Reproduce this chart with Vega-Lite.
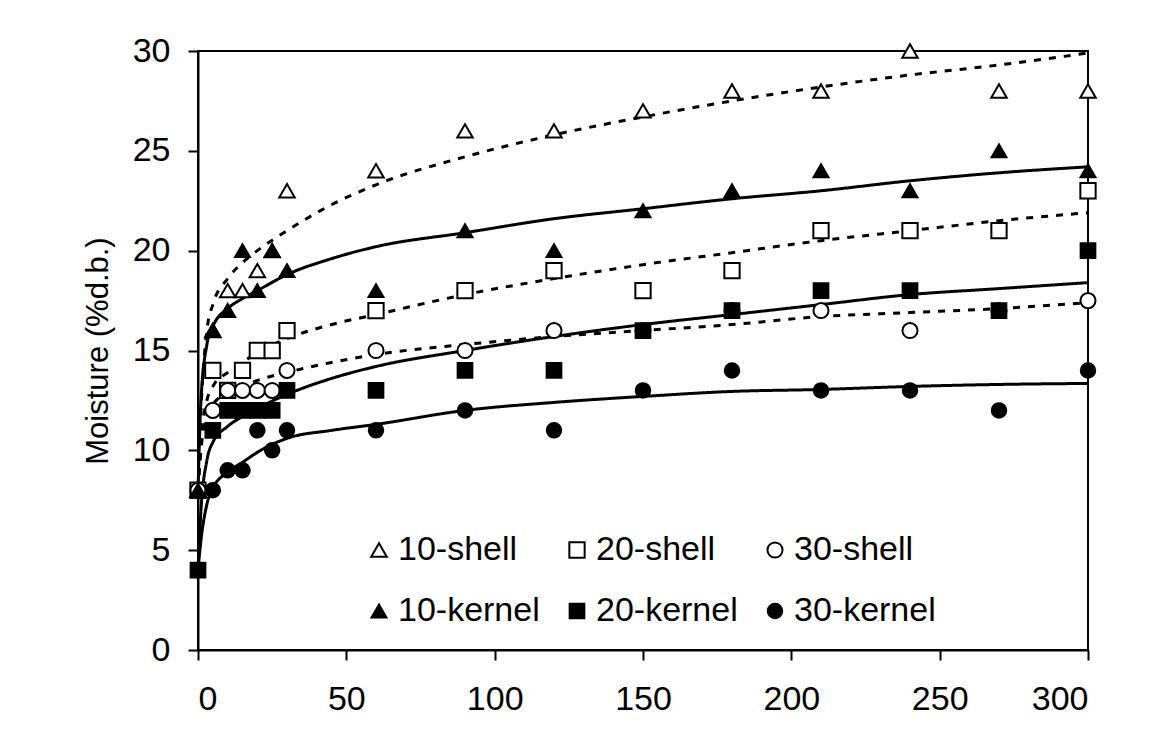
{
  "$schema": "https://vega.github.io/schema/vega-lite/v6.json",
  "width": 890,
  "height": 599,
  "autosize": {"type": "none"},
  "padding": {"left": 198, "top": 51, "right": 84, "bottom": 93},
  "background": "white",
  "config": {
    "font": "Liberation Sans",
    "view": {"stroke": "black", "strokeWidth": 2},
    "axis": {
      "grid": false,
      "domainColor": "black",
      "domainWidth": 2,
      "tickColor": "black",
      "tickWidth": 2,
      "tickSize": 10,
      "labelFont": "Liberation Sans",
      "labelFontSize": 34,
      "labelColor": "black",
      "titleFont": "Liberation Sans",
      "titleFontSize": 31,
      "titleFontWeight": "normal",
      "titleColor": "black"
    },
    "legend": {
      "orient": "none",
      "legendX": 164,
      "legendY": 482,
      "direction": "horizontal",
      "columns": 3,
      "gridAlign": "all",
      "labelFont": "Liberation Sans",
      "labelFontSize": 34,
      "labelColor": "black",
      "labelOffset": 2,
      "symbolStrokeWidth": 2,
      "columnPadding": 20,
      "rowPadding": 27,
      "labelLimit": 300
    }
  },
  "datasets": {
    "points": [
      {"series": "10-shell", "t": 0, "m": 8}, {"series": "10-shell", "t": 5, "m": 16}, {"series": "10-shell", "t": 10, "m": 18}, {"series": "10-shell", "t": 15, "m": 18}, {"series": "10-shell", "t": 20, "m": 19}, {"series": "10-shell", "t": 25, "m": 20}, {"series": "10-shell", "t": 30, "m": 23}, {"series": "10-shell", "t": 60, "m": 24}, {"series": "10-shell", "t": 90, "m": 26}, {"series": "10-shell", "t": 120, "m": 26}, {"series": "10-shell", "t": 150, "m": 27}, {"series": "10-shell", "t": 180, "m": 28}, {"series": "10-shell", "t": 210, "m": 28}, {"series": "10-shell", "t": 240, "m": 30}, {"series": "10-shell", "t": 270, "m": 28}, {"series": "10-shell", "t": 300, "m": 28},
      {"series": "20-shell", "t": 0, "m": 8}, {"series": "20-shell", "t": 5, "m": 14}, {"series": "20-shell", "t": 10, "m": 13}, {"series": "20-shell", "t": 15, "m": 14}, {"series": "20-shell", "t": 20, "m": 15}, {"series": "20-shell", "t": 25, "m": 15}, {"series": "20-shell", "t": 30, "m": 16}, {"series": "20-shell", "t": 60, "m": 17}, {"series": "20-shell", "t": 90, "m": 18}, {"series": "20-shell", "t": 120, "m": 19}, {"series": "20-shell", "t": 150, "m": 18}, {"series": "20-shell", "t": 180, "m": 19}, {"series": "20-shell", "t": 210, "m": 21}, {"series": "20-shell", "t": 240, "m": 21}, {"series": "20-shell", "t": 270, "m": 21}, {"series": "20-shell", "t": 300, "m": 23},
      {"series": "30-shell", "t": 0, "m": 8}, {"series": "30-shell", "t": 5, "m": 12}, {"series": "30-shell", "t": 10, "m": 13}, {"series": "30-shell", "t": 15, "m": 13}, {"series": "30-shell", "t": 20, "m": 13}, {"series": "30-shell", "t": 25, "m": 13}, {"series": "30-shell", "t": 30, "m": 14}, {"series": "30-shell", "t": 60, "m": 15}, {"series": "30-shell", "t": 90, "m": 15}, {"series": "30-shell", "t": 120, "m": 16}, {"series": "30-shell", "t": 150, "m": 16}, {"series": "30-shell", "t": 180, "m": 17}, {"series": "30-shell", "t": 210, "m": 17}, {"series": "30-shell", "t": 240, "m": 16}, {"series": "30-shell", "t": 270, "m": 17}, {"series": "30-shell", "t": 300, "m": 17.5},
      {"series": "10-kernel", "t": 0, "m": 8}, {"series": "10-kernel", "t": 5, "m": 16}, {"series": "10-kernel", "t": 10, "m": 17}, {"series": "10-kernel", "t": 15, "m": 20}, {"series": "10-kernel", "t": 20, "m": 18}, {"series": "10-kernel", "t": 25, "m": 20}, {"series": "10-kernel", "t": 30, "m": 19}, {"series": "10-kernel", "t": 60, "m": 18}, {"series": "10-kernel", "t": 90, "m": 21}, {"series": "10-kernel", "t": 120, "m": 20}, {"series": "10-kernel", "t": 150, "m": 22}, {"series": "10-kernel", "t": 180, "m": 23}, {"series": "10-kernel", "t": 210, "m": 24}, {"series": "10-kernel", "t": 240, "m": 23}, {"series": "10-kernel", "t": 270, "m": 25}, {"series": "10-kernel", "t": 300, "m": 24},
      {"series": "20-kernel", "t": 0, "m": 4}, {"series": "20-kernel", "t": 5, "m": 11}, {"series": "20-kernel", "t": 10, "m": 12}, {"series": "20-kernel", "t": 15, "m": 12}, {"series": "20-kernel", "t": 20, "m": 12}, {"series": "20-kernel", "t": 25, "m": 12}, {"series": "20-kernel", "t": 30, "m": 13}, {"series": "20-kernel", "t": 60, "m": 13}, {"series": "20-kernel", "t": 90, "m": 14}, {"series": "20-kernel", "t": 120, "m": 14}, {"series": "20-kernel", "t": 150, "m": 16}, {"series": "20-kernel", "t": 180, "m": 17}, {"series": "20-kernel", "t": 210, "m": 18}, {"series": "20-kernel", "t": 240, "m": 18}, {"series": "20-kernel", "t": 270, "m": 17}, {"series": "20-kernel", "t": 300, "m": 20},
      {"series": "30-kernel", "t": 0, "m": 4}, {"series": "30-kernel", "t": 5, "m": 8}, {"series": "30-kernel", "t": 10, "m": 9}, {"series": "30-kernel", "t": 15, "m": 9}, {"series": "30-kernel", "t": 20, "m": 11}, {"series": "30-kernel", "t": 25, "m": 10}, {"series": "30-kernel", "t": 30, "m": 11}, {"series": "30-kernel", "t": 60, "m": 11}, {"series": "30-kernel", "t": 90, "m": 12}, {"series": "30-kernel", "t": 120, "m": 11}, {"series": "30-kernel", "t": 150, "m": 13}, {"series": "30-kernel", "t": 180, "m": 14}, {"series": "30-kernel", "t": 210, "m": 13}, {"series": "30-kernel", "t": 240, "m": 13}, {"series": "30-kernel", "t": 270, "m": 12}, {"series": "30-kernel", "t": 300, "m": 14}
    ],
    "fits": [
      {"series": "10-shell", "type": "shell", "t": 0, "m": 8}, {"series": "10-shell", "type": "shell", "t": 1, "m": 12}, {"series": "10-shell", "type": "shell", "t": 3, "m": 16}, {"series": "10-shell", "type": "shell", "t": 5, "m": 17.3}, {"series": "10-shell", "type": "shell", "t": 10, "m": 18.6}, {"series": "10-shell", "type": "shell", "t": 15, "m": 19.4}, {"series": "10-shell", "type": "shell", "t": 20, "m": 20.0}, {"series": "10-shell", "type": "shell", "t": 30, "m": 21.0}, {"series": "10-shell", "type": "shell", "t": 45, "m": 22.3}, {"series": "10-shell", "type": "shell", "t": 60, "m": 23.3}, {"series": "10-shell", "type": "shell", "t": 90, "m": 24.7}, {"series": "10-shell", "type": "shell", "t": 120, "m": 25.8}, {"series": "10-shell", "type": "shell", "t": 150, "m": 26.7}, {"series": "10-shell", "type": "shell", "t": 180, "m": 27.5}, {"series": "10-shell", "type": "shell", "t": 210, "m": 28.2}, {"series": "10-shell", "type": "shell", "t": 240, "m": 28.8}, {"series": "10-shell", "type": "shell", "t": 270, "m": 29.3}, {"series": "10-shell", "type": "shell", "t": 300, "m": 29.9},
      {"series": "10-kernel", "type": "kernel", "t": 0, "m": 8}, {"series": "10-kernel", "type": "kernel", "t": 1, "m": 12.5}, {"series": "10-kernel", "type": "kernel", "t": 3, "m": 15.3}, {"series": "10-kernel", "type": "kernel", "t": 5, "m": 16.2}, {"series": "10-kernel", "type": "kernel", "t": 10, "m": 17.1}, {"series": "10-kernel", "type": "kernel", "t": 15, "m": 17.6}, {"series": "10-kernel", "type": "kernel", "t": 20, "m": 18.0}, {"series": "10-kernel", "type": "kernel", "t": 30, "m": 18.8}, {"series": "10-kernel", "type": "kernel", "t": 45, "m": 19.6}, {"series": "10-kernel", "type": "kernel", "t": 60, "m": 20.2}, {"series": "10-kernel", "type": "kernel", "t": 90, "m": 20.9}, {"series": "10-kernel", "type": "kernel", "t": 120, "m": 21.6}, {"series": "10-kernel", "type": "kernel", "t": 150, "m": 22.1}, {"series": "10-kernel", "type": "kernel", "t": 180, "m": 22.6}, {"series": "10-kernel", "type": "kernel", "t": 210, "m": 23.0}, {"series": "10-kernel", "type": "kernel", "t": 240, "m": 23.5}, {"series": "10-kernel", "type": "kernel", "t": 270, "m": 23.9}, {"series": "10-kernel", "type": "kernel", "t": 300, "m": 24.2},
      {"series": "20-shell", "type": "shell", "t": 0, "m": 8}, {"series": "20-shell", "type": "shell", "t": 1, "m": 10.5}, {"series": "20-shell", "type": "shell", "t": 3, "m": 12.5}, {"series": "20-shell", "type": "shell", "t": 5, "m": 13.2}, {"series": "20-shell", "type": "shell", "t": 10, "m": 13.9}, {"series": "20-shell", "type": "shell", "t": 15, "m": 14.4}, {"series": "20-shell", "type": "shell", "t": 20, "m": 14.9}, {"series": "20-shell", "type": "shell", "t": 30, "m": 15.6}, {"series": "20-shell", "type": "shell", "t": 45, "m": 16.3}, {"series": "20-shell", "type": "shell", "t": 60, "m": 16.8}, {"series": "20-shell", "type": "shell", "t": 90, "m": 17.8}, {"series": "20-shell", "type": "shell", "t": 120, "m": 18.6}, {"series": "20-shell", "type": "shell", "t": 150, "m": 19.3}, {"series": "20-shell", "type": "shell", "t": 180, "m": 19.9}, {"series": "20-shell", "type": "shell", "t": 210, "m": 20.5}, {"series": "20-shell", "type": "shell", "t": 240, "m": 21.0}, {"series": "20-shell", "type": "shell", "t": 270, "m": 21.5}, {"series": "20-shell", "type": "shell", "t": 300, "m": 21.9},
      {"series": "30-shell", "type": "shell", "t": 0, "m": 8}, {"series": "30-shell", "type": "shell", "t": 1, "m": 10}, {"series": "30-shell", "type": "shell", "t": 3, "m": 11.8}, {"series": "30-shell", "type": "shell", "t": 5, "m": 12.3}, {"series": "30-shell", "type": "shell", "t": 10, "m": 12.9}, {"series": "30-shell", "type": "shell", "t": 15, "m": 13.2}, {"series": "30-shell", "type": "shell", "t": 20, "m": 13.5}, {"series": "30-shell", "type": "shell", "t": 30, "m": 13.9}, {"series": "30-shell", "type": "shell", "t": 45, "m": 14.4}, {"series": "30-shell", "type": "shell", "t": 60, "m": 14.8}, {"series": "30-shell", "type": "shell", "t": 90, "m": 15.3}, {"series": "30-shell", "type": "shell", "t": 120, "m": 15.7}, {"series": "30-shell", "type": "shell", "t": 150, "m": 16.0}, {"series": "30-shell", "type": "shell", "t": 180, "m": 16.3}, {"series": "30-shell", "type": "shell", "t": 210, "m": 16.7}, {"series": "30-shell", "type": "shell", "t": 240, "m": 16.9}, {"series": "30-shell", "type": "shell", "t": 270, "m": 17.1}, {"series": "30-shell", "type": "shell", "t": 300, "m": 17.4},
      {"series": "20-kernel", "type": "kernel", "t": 0, "m": 4}, {"series": "20-kernel", "type": "kernel", "t": 1, "m": 7}, {"series": "20-kernel", "type": "kernel", "t": 3, "m": 9.5}, {"series": "20-kernel", "type": "kernel", "t": 5, "m": 10.4}, {"series": "20-kernel", "type": "kernel", "t": 10, "m": 11.2}, {"series": "20-kernel", "type": "kernel", "t": 15, "m": 11.7}, {"series": "20-kernel", "type": "kernel", "t": 20, "m": 12.1}, {"series": "20-kernel", "type": "kernel", "t": 30, "m": 12.8}, {"series": "20-kernel", "type": "kernel", "t": 45, "m": 13.6}, {"series": "20-kernel", "type": "kernel", "t": 60, "m": 14.2}, {"series": "20-kernel", "type": "kernel", "t": 90, "m": 15.0}, {"series": "20-kernel", "type": "kernel", "t": 120, "m": 15.7}, {"series": "20-kernel", "type": "kernel", "t": 150, "m": 16.3}, {"series": "20-kernel", "type": "kernel", "t": 180, "m": 16.8}, {"series": "20-kernel", "type": "kernel", "t": 210, "m": 17.3}, {"series": "20-kernel", "type": "kernel", "t": 240, "m": 17.8}, {"series": "20-kernel", "type": "kernel", "t": 270, "m": 18.1}, {"series": "20-kernel", "type": "kernel", "t": 300, "m": 18.4},
      {"series": "30-kernel", "type": "kernel", "t": 0, "m": 4}, {"series": "30-kernel", "type": "kernel", "t": 1, "m": 5.5}, {"series": "30-kernel", "type": "kernel", "t": 3, "m": 7.3}, {"series": "30-kernel", "type": "kernel", "t": 5, "m": 8.1}, {"series": "30-kernel", "type": "kernel", "t": 10, "m": 8.9}, {"series": "30-kernel", "type": "kernel", "t": 15, "m": 9.4}, {"series": "30-kernel", "type": "kernel", "t": 20, "m": 9.9}, {"series": "30-kernel", "type": "kernel", "t": 30, "m": 10.6}, {"series": "30-kernel", "type": "kernel", "t": 45, "m": 11.0}, {"series": "30-kernel", "type": "kernel", "t": 60, "m": 11.3}, {"series": "30-kernel", "type": "kernel", "t": 90, "m": 12.0}, {"series": "30-kernel", "type": "kernel", "t": 120, "m": 12.4}, {"series": "30-kernel", "type": "kernel", "t": 150, "m": 12.7}, {"series": "30-kernel", "type": "kernel", "t": 180, "m": 12.95}, {"series": "30-kernel", "type": "kernel", "t": 210, "m": 13.05}, {"series": "30-kernel", "type": "kernel", "t": 240, "m": 13.2}, {"series": "30-kernel", "type": "kernel", "t": 270, "m": 13.3}, {"series": "30-kernel", "type": "kernel", "t": 300, "m": 13.35}
    ]
  },
  "layer": [
    {
      "data": {"name": "fits"},
      "mark": {"type": "line", "interpolate": "monotone", "strokeWidth": 3, "color": "black"},
      "encoding": {
        "x": {"field": "t", "type": "quantitative", "scale": {"domain": [0, 300], "nice": false}, "axis": {"title": null, "values": [0, 50, 100, 150, 200, 250, 300], "labelPadding": 22}},
        "y": {"field": "m", "type": "quantitative", "scale": {"domain": [0, 30], "nice": false}, "axis": {"title": "Moisture (%d.b.)", "values": [0, 5, 10, 15, 20, 25, 30], "labelPadding": 18, "titlePadding": 18}},
        "detail": {"field": "series", "type": "nominal"},
        "strokeDash": {"field": "type", "type": "nominal", "scale": {"domain": ["shell", "kernel"], "range": [[7, 8], [1, 0]]}, "legend": null}
      }
    },
    {
      "data": {"name": "points"},
      "mark": {"type": "point", "strokeWidth": 2, "opacity": 1, "fillOpacity": 1, "strokeOpacity": 1},
      "encoding": {
        "x": {"field": "t", "type": "quantitative"},
        "y": {"field": "m", "type": "quantitative"},
        "shape": {"field": "series", "type": "nominal", "title": null, "scale": {"domain": ["10-shell", "20-shell", "30-shell", "10-kernel", "20-kernel", "30-kernel"], "range": ["triangle-up", "square", "circle", "triangle-up", "square", "circle"]}},
        "fill": {"field": "series", "type": "nominal", "title": null, "scale": {"domain": ["10-shell", "20-shell", "30-shell", "10-kernel", "20-kernel", "30-kernel"], "range": ["white", "white", "white", "black", "black", "black"]}},
        "stroke": {"field": "series", "type": "nominal", "title": null, "scale": {"domain": ["10-shell", "20-shell", "30-shell", "10-kernel", "20-kernel", "30-kernel"], "range": ["black", "black", "black", "black", "black", "black"]}},
        "size": {"field": "series", "type": "nominal", "title": null, "scale": {"domain": ["10-shell", "20-shell", "30-shell", "10-kernel", "20-kernel", "30-kernel"], "range": [240, 210, 64, 240, 220, 260]}}
      }
    }
  ]
}
